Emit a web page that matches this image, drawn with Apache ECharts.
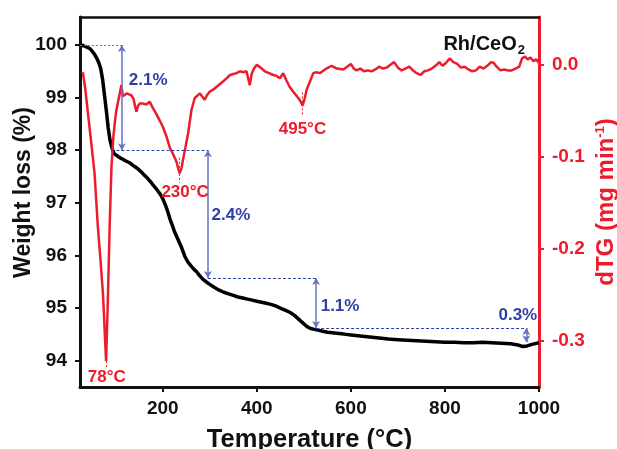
<!DOCTYPE html>
<html><head><meta charset="utf-8">
<script src="https://cdn.jsdelivr.net/npm/echarts@6/dist/echarts.min.js"></script>
<style>html,body{margin:0;padding:0;background:#fff}#c{width:617px;height:449px}</style>
</head><body><div id="c"></div>
<script>
// Thermogravimetric (TG) curve: temperature (°C) and weight (%)
var tgTemp = [25,30,35,40,45,50,55,60,64,68,72,76,80,84,88,92,97,101,105,110,115,120,125,130,135,140,145,150,155,160,165,170,175,180,185,190,195,200,205,210,215,220,225,230,235,240,247,253,260,266,272,278,285,292,300,310,320,330,340,350,360,370,380,390,400,410,420,430,440,450,460,470,480,490,500,505,510,515,520,530,540,550,560,570,580,590,600,620,640,660,680,700,720,740,760,780,800,820,840,860,880,900,920,940,955,965,975,985,1000];
var tgWeight = [100.0,99.99,99.97,99.95,99.93,99.88,99.82,99.74,99.66,99.55,99.35,99.05,98.75,98.42,98.18,98.04,97.93,97.91,97.88,97.85,97.83,97.8,97.78,97.76,97.72,97.69,97.66,97.62,97.58,97.53,97.49,97.44,97.39,97.33,97.28,97.22,97.16,97.08,96.97,96.85,96.7,96.58,96.45,96.35,96.25,96.15,95.98,95.88,95.8,95.74,95.69,95.62,95.55,95.5,95.45,95.39,95.34,95.3,95.27,95.24,95.21,95.19,95.17,95.15,95.13,95.11,95.09,95.07,95.04,95.0,94.96,94.92,94.86,94.78,94.7,94.66,94.63,94.61,94.6,94.58,94.56,94.54,94.53,94.52,94.51,94.5,94.49,94.47,94.45,94.43,94.41,94.4,94.39,94.38,94.37,94.36,94.35,94.35,94.34,94.34,94.35,94.34,94.33,94.32,94.3,94.27,94.28,94.31,94.34];

// Derivative (dTG) curve: temperature (°C) and dTG (mg min^-1)
var dtgTemp = [30,35,41,48,55,62,68,73,77,79.5,83,87,91,95,98,101,105,109,112,115,119,123,128,133,138,141,144,147,151,158,165,172,176,179,186,193,200,208,215,222,229,233,236,240,243,248,254,261,268,279,289,294,300,307,314,321,328,335,343,350,357,364,371,378,381,385,389,394,400,408,417,426,435,442,449,456,463,470,477,485,491,497.5,502,506,513,520,527,534,545,559,570,584,592,600,606,612,620,628,636,644,652,660,668,676,684,692,700,708,716,724,732,740,748,756,764,772,780,788,795,802,810,818,826,834,842,850,858,866,874,882,890,898,904,910,918,926,934,942,950,958,964,970,976,982,988,994,1000];
var dtgValue = [-0.008,-0.025,-0.053,-0.085,-0.118,-0.176,-0.215,-0.25,-0.295,-0.322,-0.26,-0.176,-0.11,-0.078,-0.063,-0.05,-0.04,-0.03,-0.022,-0.034,-0.033,-0.031,-0.032,-0.033,-0.037,-0.045,-0.051,-0.045,-0.042,-0.042,-0.043,-0.04,-0.041,-0.047,-0.053,-0.06,-0.067,-0.078,-0.09,-0.097,-0.105,-0.113,-0.118,-0.112,-0.103,-0.09,-0.074,-0.049,-0.036,-0.031,-0.038,-0.033,-0.029,-0.027,-0.024,-0.021,-0.018,-0.015,-0.011,-0.01,-0.009,-0.007,-0.008,-0.007,-0.006,-0.022,-0.01,-0.004,0.0,-0.003,-0.007,-0.009,-0.011,-0.012,-0.0145,-0.009,-0.017,-0.024,-0.029,-0.034,-0.038,-0.044,-0.036,-0.027,-0.018,-0.009,-0.008,-0.009,-0.005,-0.001,-0.004,-0.005,-0.002,0.001,-0.004,-0.006,-0.004,-0.007,-0.006,-0.007,-0.005,-0.002,-0.004,-0.003,0.0,0.003,-0.003,-0.006,-0.004,-0.002,-0.006,-0.009,-0.011,-0.007,-0.006,-0.004,-0.001,0.003,-0.001,0.002,0.007,0.003,0.001,-0.003,-0.002,-0.005,-0.007,-0.006,-0.002,-0.004,-0.001,0.003,0.002,-0.002,-0.006,-0.005,-0.006,-0.006,-0.004,-0.002,0.007,0.009,0.006,0.008,0.004,0.006,0.002];

// Axis tick labels
var xTicks = [200,400,600,800,1000];
var yLeftTicks = [94,95,96,97,98,99,100];
var yRightTicks = [-0.3,-0.2,-0.1,0.0];

// Weight-loss steps: dashed level from x0 to x, arrow at x from 'from' to 'to'
var steps = [
  {x0:24,  x:113, from:100.0, to:98.0,  label:'2.1%'},
  {x0:91,  x:296, from:98.0,  to:95.57, label:'2.4%'},
  {x0:296, x:526, from:95.57, to:94.62, label:'1.1%'},
  {x0:526, x:973, from:94.62, to:94.35, label:'0.3%'}
];
// label centres in data coordinates (temperature, weight)
var stepLabelPos = [[169,99.33],[345,96.77],[577,95.04],[955,94.87]];
// dTG peak minima: [temperature, dTG, label]
var peaks = [[79.5,-0.322,'78°C'],[236,-0.118,'230°C'],[497.5,-0.044,'495°C']];
var pkLabelPos = [[81,-0.339],[247.5,-0.138],[497,-0.0696]];
var pkLineEnds = [[-0.322,-0.331],[-0.101,-0.128],[-0.03,-0.055]];

var RED = '#ec1c2c', BLUE = '#2f3fa8', BLUE2 = '#6674c2';
var FONT = 'Liberation Sans, Arial, sans-serif';

function zip(a,b){var r=[];for(var i=0;i<a.length;i++)r.push([a[i],b[i]]);return r;}

var tgLines = [], tgLabels = [];
steps.forEach(function(s,i){
  var dash = i===0 ? {type:[2,2], color:BLUE2, width:1} : {type:[3,2], color:BLUE, width:1};
  tgLines.push([{coord:[s.x0,s.from], symbol:'none', lineStyle:dash},{coord:[s.x,s.from], symbol:'none'}]);
  tgLines.push([{coord:[s.x,s.from], symbol:'arrow', symbolSize:[6,7], lineStyle:{type:'solid',color:BLUE2,width:1.5}},
                {coord:[s.x,s.to], symbol:'arrow', symbolSize:[6,7]}]);
  tgLabels.push({coord:stepLabelPos[i], value:s.label});
});
var pkLines = [], pkLabels = [];
peaks.forEach(function(p,i){
  pkLines.push([{coord:[p[0],pkLineEnds[i][0]]},{coord:[p[0],pkLineEnds[i][1]]}]);
  pkLabels.push({coord:pkLabelPos[i], value:p[2]});
});

var chart = echarts.init(document.getElementById('c'), null, {renderer:'canvas'});
chart.setOption({
  animation:false,
  backgroundColor:'#fff',
  title:{text:'{a|Rh/CeO}{b|2}', right:87, top:29,
    textStyle:{rich:{a:{fontFamily:FONT,fontWeight:'bold',fontSize:20,color:'#111',verticalAlign:'bottom'},
                     b:{fontFamily:FONT,fontWeight:'bold',fontSize:13,color:'#111',verticalAlign:'bottom',padding:[0,0,-3,1]}}}},
  grid:{left:80, right:78, top:17, bottom:62, containLabel:false, outerBoundsMode:'none'},
  xAxis:[{
    type:'value', min:24, max:1000, position:'bottom',
    name:'Temperature (°C)', nameLocation:'middle', nameGap:40, nameMoveOverlap:false,
    nameTextStyle:{fontFamily:FONT,fontWeight:'bold',fontSize:25.5,color:'#111'},
    axisLine:{show:true,onZero:false,lineStyle:{color:'#111',width:3}},
    axisTick:{show:true,length:5,lineStyle:{color:'#111',width:2},customValues:xTicks},
    axisLabel:{fontFamily:FONT,fontWeight:'bold',fontSize:19,color:'#111',margin:12,customValues:xTicks,
      formatter:function(v){return String(v);}},
    splitLine:{show:false}
  },{
    type:'value', min:24, max:1000, position:'top',
    axisLine:{show:true,onZero:false,lineStyle:{color:'#111',width:2.5}},
    axisTick:{show:false}, axisLabel:{show:false}, splitLine:{show:false}
  }],
  yAxis:[{
    type:'value', min:93.5, max:100.53, position:'left',
    name:'Weight loss (%)', nameLocation:'middle', nameGap:45, nameRotate:90, nameMoveOverlap:false,
    nameTextStyle:{fontFamily:FONT,fontWeight:'bold',fontSize:23,color:'#111',padding:[0,0,0,19]},
    axisLine:{show:true,onZero:false,lineStyle:{color:'#111',width:3}},
    axisTick:{show:true,length:5,lineStyle:{color:'#111',width:2},customValues:yLeftTicks},
    axisLabel:{fontFamily:FONT,fontWeight:'bold',fontSize:19,color:'#111',margin:13,customValues:yLeftTicks},
    splitLine:{show:false}
  },{
    type:'value', min:-0.35, max:0.052, position:'right',
    name:'{a|dTG (mg min}{s|-1}{a|)}', nameLocation:'middle', nameGap:55, nameRotate:90, nameMoveOverlap:false,
    nameTextStyle:{rich:{a:{fontFamily:FONT,fontWeight:'bold',fontSize:24,color:RED},
                         s:{fontFamily:FONT,fontWeight:'bold',fontSize:13,color:RED,verticalAlign:'top',padding:[0,0,10,0]}}},
    axisLine:{show:true,onZero:false,lineStyle:{color:RED,width:3}},
    axisTick:{show:true,length:5,lineStyle:{color:RED,width:2},customValues:yRightTicks},
    axisLabel:{fontFamily:FONT,fontWeight:'bold',fontSize:19,color:RED,margin:13,customValues:yRightTicks,
      formatter:function(v){return v.toFixed(1);}},
    splitLine:{show:false}
  }],
  series:[{
    type:'line', xAxisIndex:0, yAxisIndex:0, data:zip(tgTemp,tgWeight),
    showSymbol:false, lineStyle:{color:'#000',width:3.5}, z:2,
    markLine:{silent:true, symbol:'none', label:{show:false}, animation:false, data:tgLines},
    markPoint:{silent:true, symbol:'circle', symbolSize:0, animation:false,
      label:{show:true, position:'inside', formatter:function(p){return p.value;},
             fontFamily:FONT,fontWeight:'bold',fontSize:17,color:BLUE},
      data:tgLabels}
  },{
    type:'line', xAxisIndex:0, yAxisIndex:1, data:zip(dtgTemp,dtgValue),
    showSymbol:false, lineStyle:{color:RED,width:2.5}, z:3,
    markLine:{silent:true, symbol:'none', label:{show:false}, animation:false,
      lineStyle:{type:[2,2],color:RED,width:1}, data:pkLines},
    markPoint:{silent:true, symbol:'circle', symbolSize:0, animation:false,
      label:{show:true, position:'inside', formatter:function(p){return p.value;},
             fontFamily:FONT,fontWeight:'bold',fontSize:17,color:RED},
      data:pkLabels}
  }]
});
</script></body></html>
